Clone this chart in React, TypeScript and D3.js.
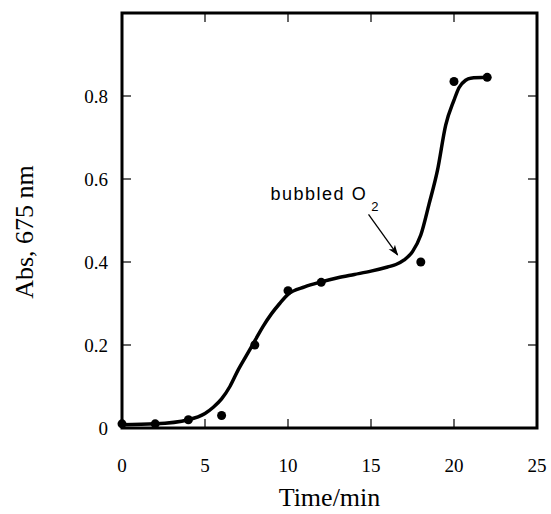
import React from "react";
import * as d3 from "d3";

// measured points
const timeMin = [0, 2, 4, 6, 8, 10, 12, 18, 20, 22];
const absorbance = [0.01, 0.01, 0.02, 0.03, 0.2, 0.331, 0.351, 0.4, 0.835, 0.845];

// hand-drawn fit curve
const curveT = [0, 2, 4, 5, 5.5, 6, 6.5, 7, 7.5, 8, 8.5, 9, 9.5, 10, 11, 12, 13, 14, 15, 16, 16.5, 17, 17.5, 18, 18.5, 19, 19.5, 20, 20.3, 20.7, 21, 22];
const curveAbs = [0.008, 0.01, 0.02, 0.035, 0.05, 0.07, 0.1, 0.14, 0.175, 0.21, 0.245, 0.275, 0.3, 0.322, 0.34, 0.352, 0.362, 0.37, 0.378, 0.388, 0.394, 0.405, 0.425, 0.465, 0.54, 0.62, 0.73, 0.79, 0.82, 0.838, 0.843, 0.845];

const xTicks = [0, 5, 10, 15, 20, 25];
const yTicks = [0, 0.2, 0.4, 0.6, 0.8];

const note = { label: "bubbled", sub: "2", t: 8.95, v: 0.549, fromT: 14.85, fromV: 0.515, toT: 16.6, toV: 0.417 };

const W = 551;
const H = 514;
const margin = { top: 13, right: 14, bottom: 86, left: 122 };

export default function App() {
  const x = d3.scaleLinear().domain([0, 25]).range([margin.left, W - margin.right]);
  const y = d3.scaleLinear().domain([0, 1]).range([H - margin.bottom, margin.top]);

  const line = d3
    .line<number>()
    .x((d, i) => x(curveT[i]))
    .y((d) => y(d))
    .curve(d3.curveMonotoneX);

  const x0 = x(0), x1 = x(25), y0 = y(0), y1 = y(1);
  const tick = 9;
  const serif = "'Liberation Serif', 'Times New Roman', serif";
  const sans = "'Liberation Sans', Arial, sans-serif";

  return (
    <svg width={W} height={H} style={{ position: "absolute", left: 0, top: 0, background: "#fff" }}>
      <defs>
        <marker id="arrow" viewBox="0 0 10 10" refX="9" refY="5" markerWidth="11" markerHeight="11" markerUnits="userSpaceOnUse" orient="auto">
          <path d="M0,1.5 L10,5 L0,8.5 L2.5,5 Z" fill="#000" />
        </marker>
      </defs>

      {/* ticks on all four sides, pointing inwards */}
      {xTicks.slice(1, -1).map((t) => (
        <g key={"xt" + t} stroke="#000" strokeWidth={1.2}>
          <line x1={x(t)} x2={x(t)} y1={y0} y2={y0 - tick} />
          <line x1={x(t)} x2={x(t)} y1={y1} y2={y1 + tick} />
        </g>
      ))}
      {yTicks.slice(1).map((v) => (
        <g key={"yt" + v} stroke="#000" strokeWidth={1.2}>
          <line x1={x0} x2={x0 + tick} y1={y(v)} y2={y(v)} />
          <line x1={x1} x2={x1 - tick} y1={y(v)} y2={y(v)} />
        </g>
      ))}

      <rect x={x0} y={y1} width={x1 - x0} height={y0 - y1} fill="none" stroke="#000" strokeWidth={3} />

      {xTicks.map((t) => (
        <text key={"xl" + t} x={x(t)} y={y0 + 44} textAnchor="middle" fontFamily={serif} fontSize={19}>
          {t}
        </text>
      ))}
      {yTicks.map((v) => (
        <text key={"yl" + v} x={x0 - 14} y={y(v)} dy="0.35em" textAnchor="end" fontFamily={serif} fontSize={19}>
          {v === 0 ? "0" : d3.format(".1f")(v)}
        </text>
      ))}

      <path d={line(curveAbs) || ""} fill="none" stroke="#000" strokeWidth={3.5} strokeLinejoin="round" strokeLinecap="round" />

      {timeMin.map((t, i) => (
        <circle key={"p" + i} cx={x(t)} cy={y(absorbance[i])} r={4.5} fill="#000" />
      ))}

      <text x={x(note.t)} y={y(note.v)} fontFamily={sans} fontSize={18} letterSpacing={1.5}>
        {note.label} O
        <tspan fontSize={13} letterSpacing={0} dx={4} dy={11}>{note.sub}</tspan>
      </text>
      <line
        x1={x(note.fromT)}
        y1={y(note.fromV)}
        x2={x(note.toT)}
        y2={y(note.toV)}
        stroke="#000"
        strokeWidth={1.3}
        markerEnd="url(#arrow)"
      />

      <text x={(x0 + x1) / 2} y={506} textAnchor="middle" fontFamily={serif} fontSize={26}>
        Time/min
      </text>
      <text transform={`translate(33,${232}) rotate(-90)`} textAnchor="middle" fontFamily={serif} fontSize={26}>
        Abs, 675 nm
      </text>
    </svg>
  );
}
